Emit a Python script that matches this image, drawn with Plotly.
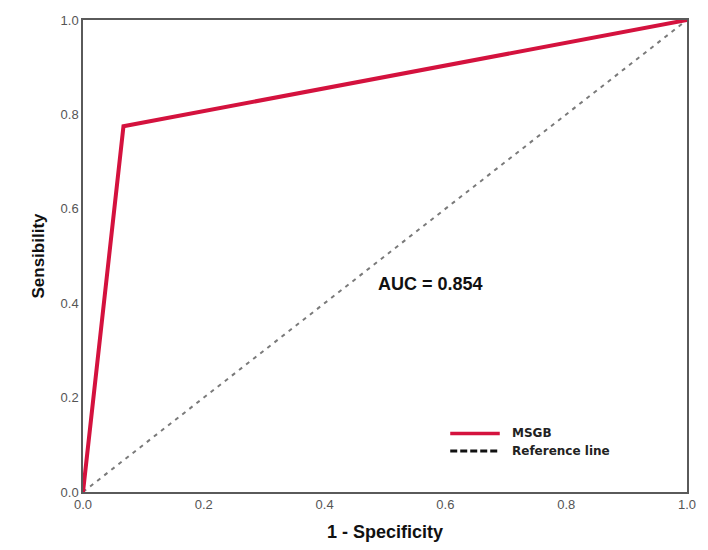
import plotly.graph_objects as go

# ROC data
fpr = [0.0, 0.067, 1.0]
tpr = [0.0, 0.775, 1.0]
ref_x = [0.0, 1.0]
ref_y = [0.0, 1.0]
tick_vals = [0.0, 0.2, 0.4, 0.6, 0.8, 1.0]
tick_text = ["0.0", "0.2", "0.4", "0.6", "0.8", "1.0"]
auc_label = "AUC = 0.854"
series_names = ["MSGB", "Reference line"]

RED = "#d4123e"
fig = go.Figure()
fig.add_trace(go.Scatter(x=ref_x, y=ref_y, mode="lines",
                         line=dict(color="#7a7a7a", width=2, dash="4px,5px"),
                         showlegend=False, hoverinfo="skip"))
fig.add_trace(go.Scatter(x=fpr, y=tpr, mode="lines",
                         line=dict(color=RED, width=4), showlegend=False,
                         name=series_names[0]))

# manual legend (paper coordinates)
fig.add_shape(type="line", xref="paper", yref="paper", x0=0.608, x1=0.69, y0=0.124, y1=0.124,
              line=dict(color=RED, width=3.5))
fig.add_shape(type="line", xref="paper", yref="paper", x0=0.608, x1=0.69, y0=0.087, y1=0.087,
              line=dict(color="#111111", width=3, dash="7px,3px"))
fig.add_annotation(xref="paper", yref="paper", x=0.707, y=0.124, text="<b>" + series_names[0] + "</b>",
                   showarrow=False, xanchor="left", yanchor="middle",
                   font=dict(family="DejaVu Sans", size=12, color="#222222"))
fig.add_annotation(xref="paper", yref="paper", x=0.707, y=0.087, text="<b>" + series_names[1] + "</b>",
                   showarrow=False, xanchor="left", yanchor="middle",
                   font=dict(family="DejaVu Sans", size=12, color="#222222"))

fig.add_annotation(xref="paper", yref="paper", x=0.575, y=0.44, text="<b>" + auc_label + "</b>",
                   showarrow=False, xanchor="center", yanchor="middle",
                   font=dict(family="Liberation Sans, Arial", size=18, color="#111111"))

axis_common = dict(range=[0, 1], tickvals=tick_vals, ticktext=tick_text,
                   showgrid=False, zeroline=False, showline=True, linecolor="#5a5a5a",
                   linewidth=1.5, mirror=True, ticks="",
                   tickfont=dict(family="Liberation Sans, Arial", size=13, color="#555555"),
                   automargin=False)
fig.update_xaxes(**axis_common,
                 title=dict(text="<b>1 - Specificity</b>", standoff=14,
                            font=dict(family="Liberation Sans, Arial", size=18, color="#111111")))
fig.update_yaxes(**axis_common,
                 title=dict(text="<b>Sensibility</b>", standoff=12,
                            font=dict(family="Liberation Sans, Arial", size=17, color="#111111")))

fig.update_layout(width=708, height=550, margin=dict(l=83, r=21, t=20, b=58),
                  plot_bgcolor="white", paper_bgcolor="white")
fig.write_html("out.html")
